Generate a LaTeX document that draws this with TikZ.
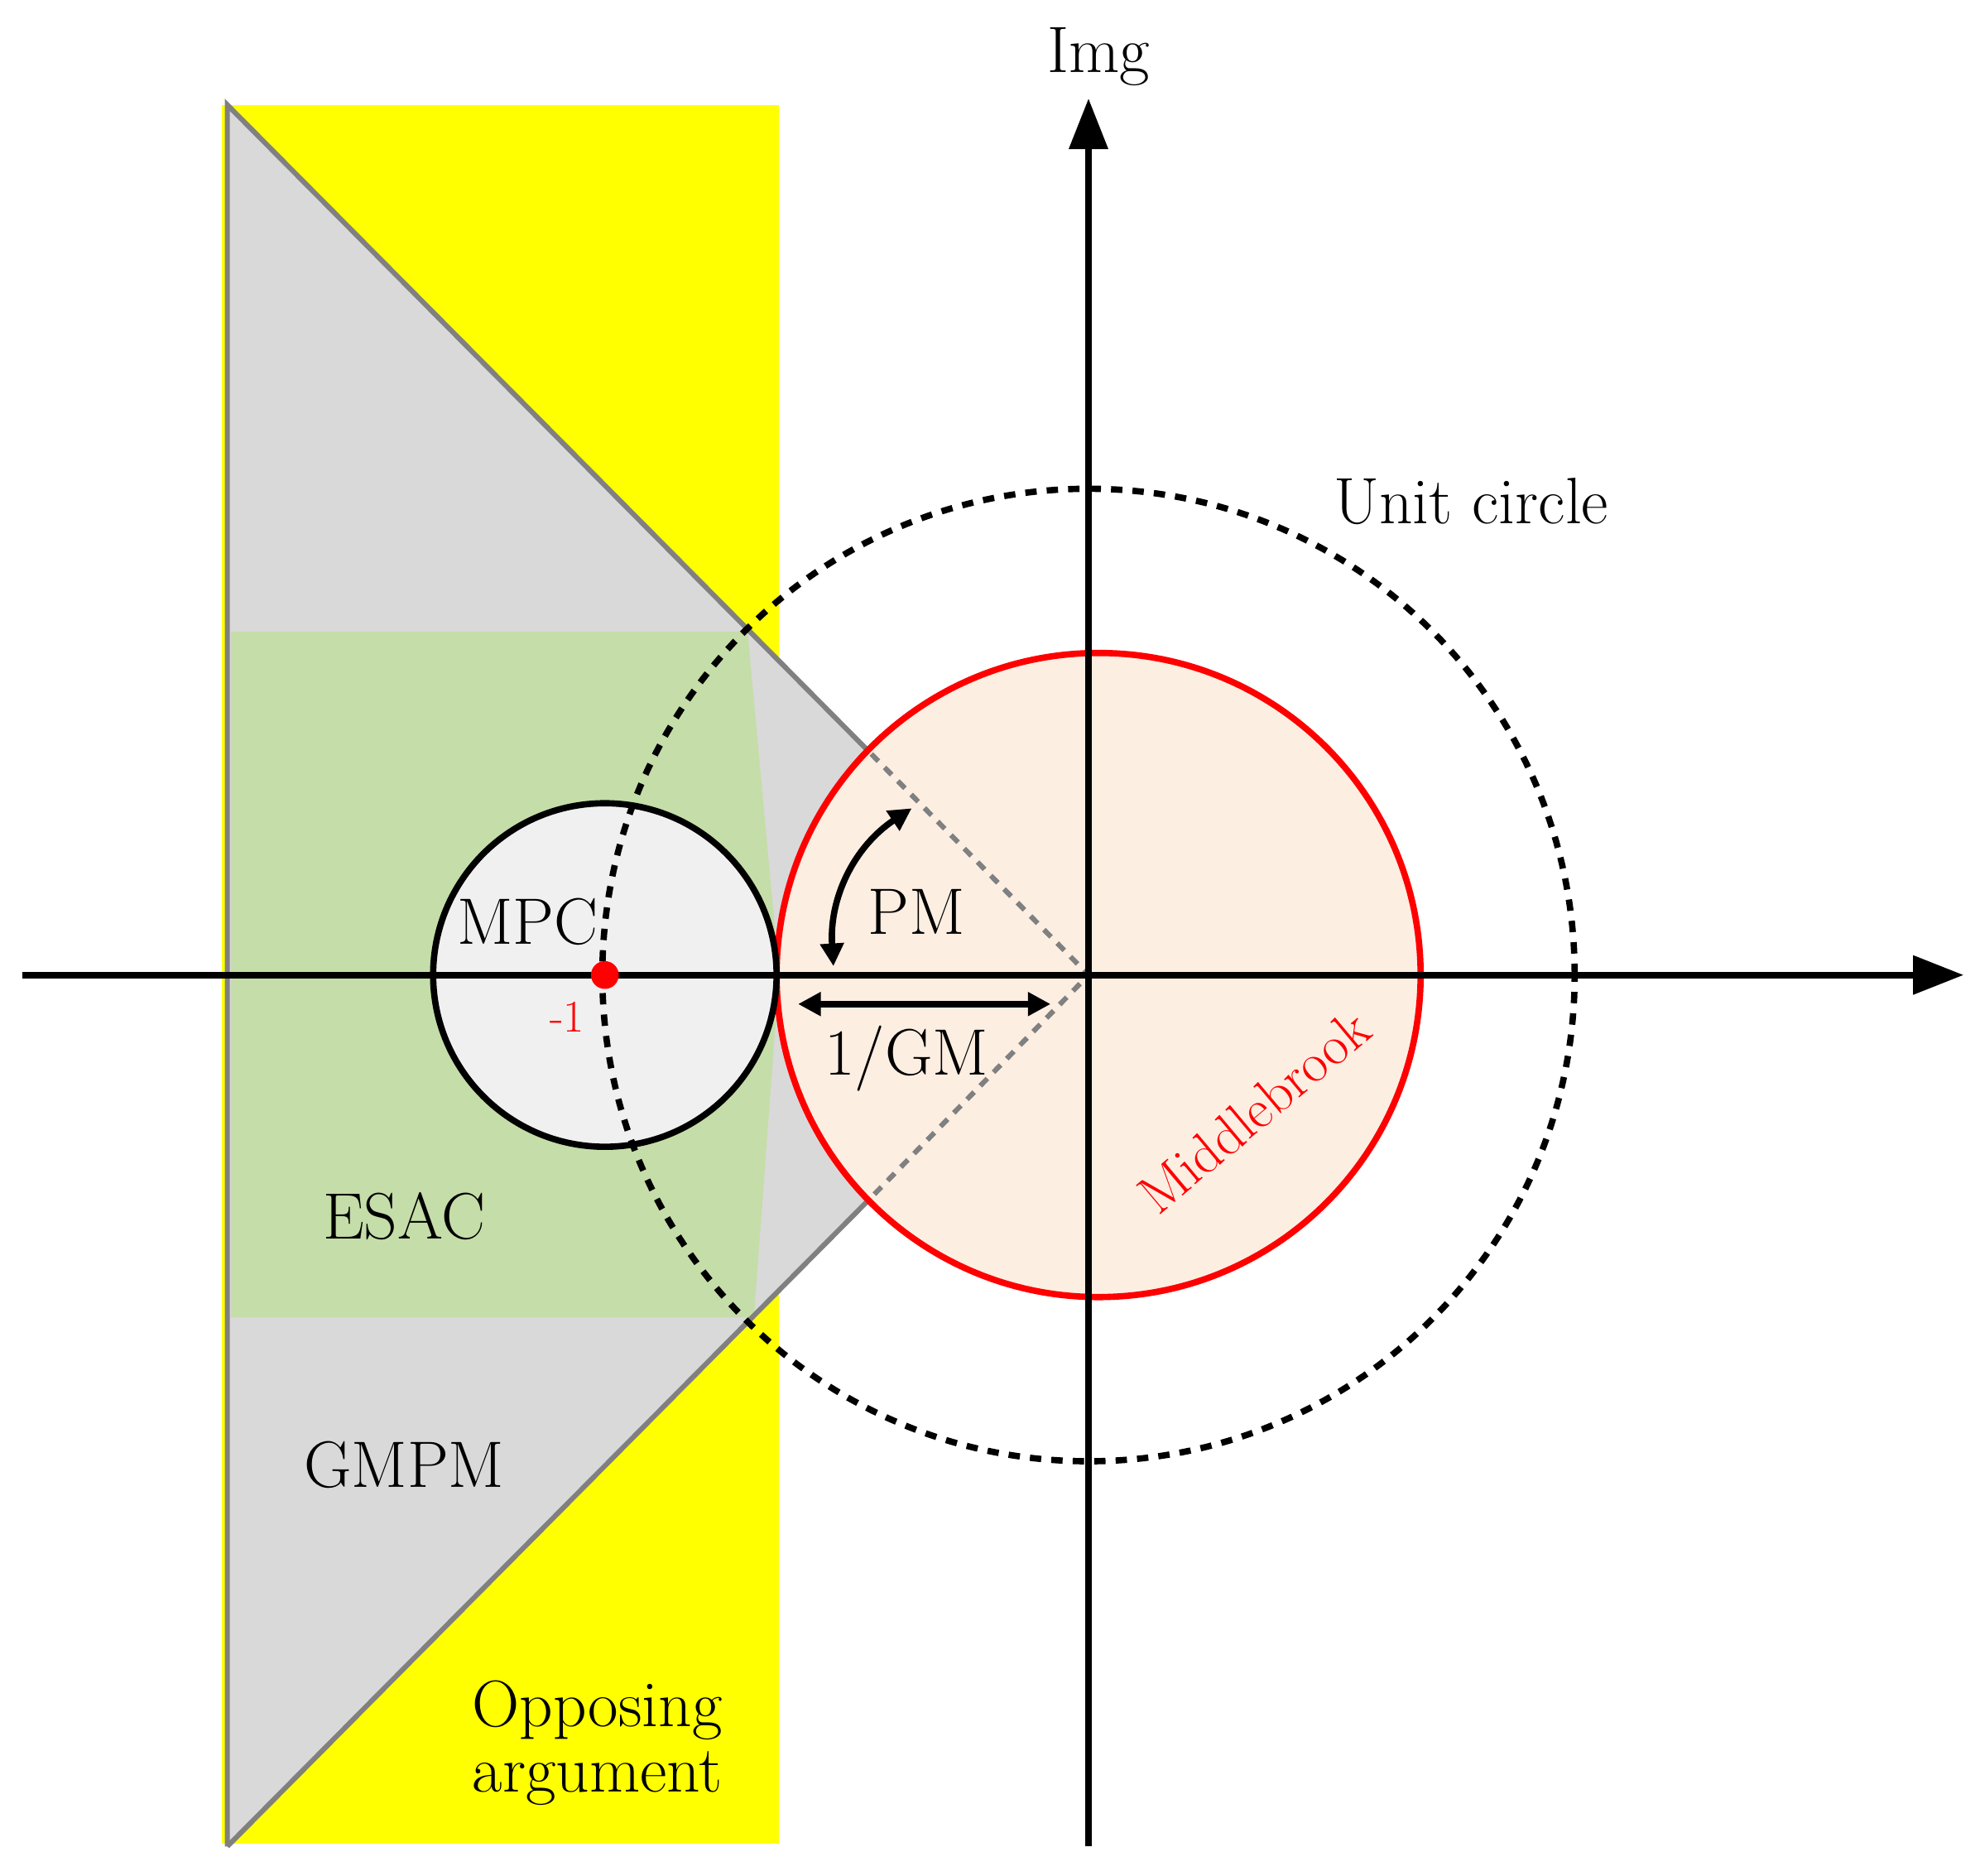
\documentclass[tikz,border=0pt]{standalone}
\usetikzlibrary{arrows.meta}
\begin{document}
\begin{tikzpicture}[x=1pt,y=-1pt,
  lbl/.style={font=\fontsize{52}{58}\selectfont},
  ax/.style={line width=5pt,-{Triangle[length=40pt,width=30pt]}}]
\useasboundingbox (0,0) rectangle (1568,1485);
\definecolor{ylw}{RGB}{255,255,0}
\definecolor{gry}{RGB}{217,217,217}
\definecolor{grn}{RGB}{197,221,168}
\definecolor{peach}{RGB}{253,238,226}
\fill[ylw] (176,83) rectangle (617,1460);
\fill[gry] (180,83) -- (862,772) -- (180,1462) -- cycle;
\fill[grn] (183,500) -- (592,500) -- (617,772) -- (597,1043) -- (183,1043) -- cycle;
\draw[gray,line width=4pt] (180,1462) -- (180,83) -- (690,597);
\draw[gray,line width=4pt] (180,1462) -- (690,948);
\node[circle,draw=red,fill=peach,line width=5pt,minimum size=510pt,inner sep=0] (mb) at (870,772) {};
\draw[gray,line width=4pt,dash pattern=on 8pt off 7pt] (690,597) -- (862,772) -- (690,948);
\node[circle,draw=black,fill=black!6,line width=5pt,minimum size=272pt,inner sep=0] (mpc) at (479,772) {};
\node[circle,draw=black,line width=5pt,dash pattern=on 9pt off 8pt,minimum size=770pt,inner sep=0] (uc) at (862,772) {};
\coordinate (xl) at (18,772); \coordinate (xr) at (1555,772);
\coordinate (yb) at (862,1462); \coordinate (yt) at (862,78);
\draw[ax] (xl) -- (xr);
\draw[ax] (yb) -- (yt);
\node[circle,fill=red,minimum size=22pt,inner sep=0] (m1) at (479,772) {};
\node[text=red,font=\fontsize{36}{40}\selectfont] (m1l) at (449,805) {-1};
\node[lbl] (img) at (870,45) {Img};
\node[lbl] (ucl) at (1165,397) {Unit circle};
\node[lbl] (mpcl) at (418,730) {MPC};
\node[lbl] (pm) at (726,722) {PM};
\node[lbl] (gm) at (718,838) {1/GM};
\node[text=red,rotate=40,font=\fontsize{44}{48}\selectfont] (mbl) at (993,880) {Middlebrook};
\node[lbl] (esac) at (320,963) {ESAC};
\node[lbl] (gmpm) at (320,1160) {GMPM};
\node[lbl,align=center] (opp) at (473,1380) {Opposing\\[-6pt]argument};
\coordinate (pa) at (722,640); \coordinate (pb) at (660,765);
\draw[line width=5pt,{Triangle[length=18pt,width=18pt]}-{Triangle[length=18pt,width=18pt]}] (pa) to[bend right=30] (pb);
\coordinate (ga) at (632,795); \coordinate (gb) at (832,795);
\draw[line width=5pt,{Triangle[length=18pt,width=18pt]}-{Triangle[length=18pt,width=18pt]}] (ga) -- (gb);
\end{tikzpicture}
\end{document}
